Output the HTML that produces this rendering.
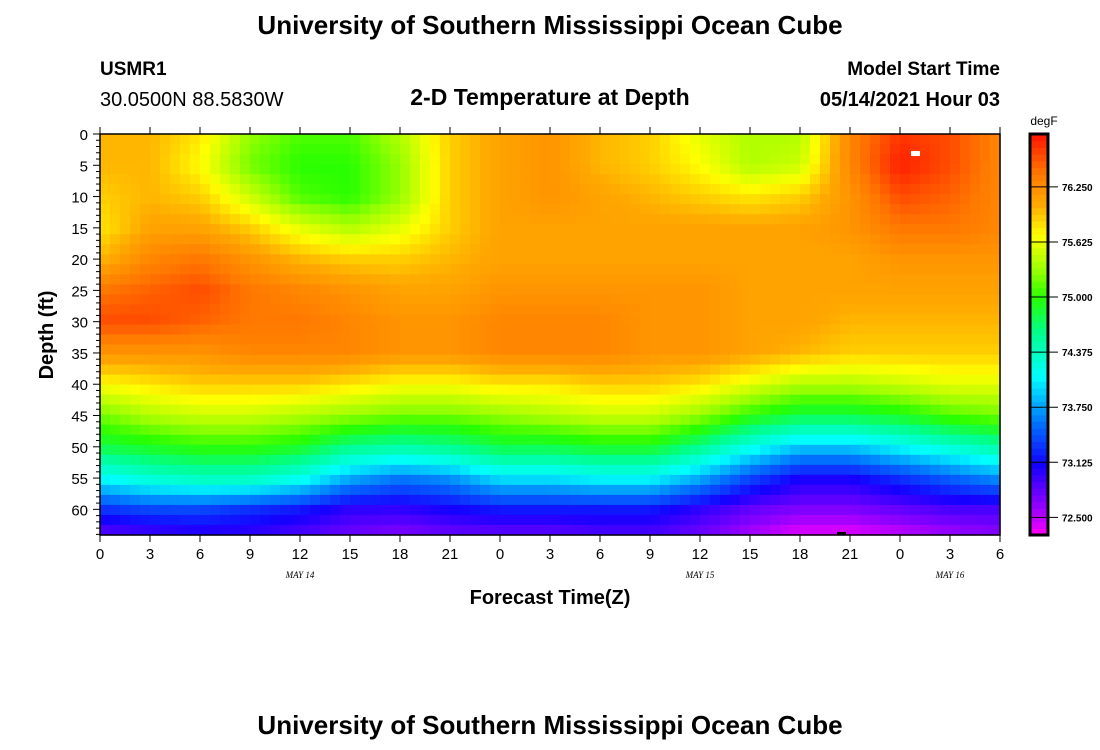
<!DOCTYPE html>
<html><head><meta charset="utf-8"><style>
body{margin:0;background:#fff;width:1100px;height:750px;overflow:hidden;font-family:"Liberation Sans",sans-serif}
svg{display:block}
</style></head><body>
<svg id="s" width="1100" height="750" xmlns="http://www.w3.org/2000/svg">
<text x="550" y="34" text-anchor="middle" font-size="26" font-weight="bold">University of Southern Mississippi Ocean Cube</text>
<text x="100" y="75" font-size="19" font-weight="bold">USMR1</text>
<text x="100" y="106" font-size="20">30.0500N  88.5830W</text>
<text x="550" y="105" text-anchor="middle" font-size="23" font-weight="bold">2-D Temperature at Depth</text>
<text x="1000" y="75" text-anchor="end" font-size="19" font-weight="bold">Model Start Time</text>
<text x="1000" y="106" text-anchor="end" font-size="20" font-weight="bold">05/14/2021 Hour 03</text>
<g id="heat"></g>
<g id="axes"></g>
<text transform="translate(53,335) rotate(-90)" text-anchor="middle" font-size="20" font-weight="bold">Depth (ft)</text>
<text x="550" y="604" text-anchor="middle" font-size="20" font-weight="bold">Forecast Time(Z)</text>
<text x="550" y="734" text-anchor="middle" font-size="26" font-weight="bold">University of Southern Mississippi Ocean Cube</text>
<g id="cbar"></g>
<text x="1044" y="125" text-anchor="middle" font-size="12">degF</text>
</svg>
<script>
const hours=[0,3,6,9,12,15,18,21,24,27,30,33,36,39,42,45,48,51,54];
const depths=[0,5,10,15,20,25,30,35,40,45,50,55,60,65];
const tempRows=[
[76.0,76.0,75.8,75.3,75.1,75.1,75.4,75.9,76.1,76.2,76.0,75.9,75.6,75.4,75.4,76.3,76.7,76.6,76.3],
[76.0,76.0,75.7,75.2,75.0,75.0,75.3,75.9,76.1,76.2,76.0,75.9,75.7,75.4,75.5,76.3,76.8,76.6,76.3],
[75.9,76.0,75.9,75.5,75.1,75.0,75.3,75.9,76.1,76.2,76.1,76.0,75.9,75.8,75.9,76.2,76.6,76.5,76.3],
[75.8,76.1,76.1,75.9,75.6,75.4,75.6,75.9,76.1,76.1,76.1,76.1,76.1,76.1,76.1,76.2,76.4,76.4,76.3],
[76.0,76.3,76.4,76.2,76.0,75.9,75.9,76.0,76.1,76.1,76.1,76.1,76.1,76.1,76.1,76.1,76.2,76.2,76.2],
[76.4,76.5,76.6,76.4,76.3,76.2,76.1,76.1,76.2,76.2,76.2,76.2,76.2,76.1,76.1,76.1,76.1,76.1,76.1],
[76.6,76.6,76.5,76.4,76.4,76.3,76.2,76.2,76.3,76.3,76.3,76.2,76.2,76.1,76.1,76.0,76.0,76.0,76.0],
[76.2,76.2,76.2,76.3,76.3,76.3,76.2,76.2,76.3,76.3,76.3,76.2,76.2,76.1,76.0,75.9,75.9,75.9,75.9],
[75.7,75.8,75.9,75.9,75.9,75.8,75.7,75.7,75.8,75.8,75.9,75.9,75.8,75.6,75.4,75.4,75.5,75.6,75.6],
[75.2,75.4,75.5,75.5,75.4,75.3,75.2,75.2,75.3,75.4,75.5,75.5,75.3,75.0,74.8,74.8,74.9,75.1,75.2],
[74.8,74.9,75.0,75.0,74.9,74.6,74.5,74.6,74.8,74.8,74.9,74.9,74.6,74.2,73.9,73.9,74.1,74.3,74.5],
[74.1,74.3,74.4,74.4,74.2,73.8,73.6,73.7,74.0,74.0,74.1,74.1,73.8,73.4,73.1,73.1,73.3,73.5,73.7],
[73.3,73.4,73.4,73.3,73.2,73.0,73.0,73.1,73.2,73.2,73.2,73.2,73.0,72.8,72.7,72.7,72.8,72.9,72.9],
[72.7,72.8,72.9,72.9,72.8,72.7,72.6,72.7,72.7,72.7,72.8,72.8,72.7,72.5,72.3,72.3,72.4,72.5,72.6]];
const xTickLabels=["0","3","6","9","12","15","18","21","0","3","6","9","12","15","18","21","0","3","6"];
const yTickLabels=["0","5","10","15","20","25","30","35","40","45","50","55","60"];
const dateLabels=["MAY 14","MAY 15","MAY 16"];
const dateHours=[12,36,51];
const cbTicks=[72.5,73.125,73.75,74.375,75.0,75.625,76.25];

const X0=100,X1=1000,Y0=134,Y1=535,HMAX=54,DMAX=64.1,TMIN=72.3,TMAX=76.85;
const xs=h=>X0+(h/HMAX)*(X1-X0);
const ys=d=>Y0+(d/DMAX)*(Y1-Y0);
const cs=t=>Y1-(t-TMIN)/(TMAX-TMIN)*(Y1-Y0);
const stops=[[72.3,[255,0,255]],[72.65,[140,0,255]],[73.1,[20,0,255]],[73.6,[0,120,255]],[74.1,[0,255,255]],[74.6,[0,255,140]],[75.0,[40,255,0]],[75.3,[150,255,0]],[75.7,[255,255,0]],[76.05,[255,170,0]],[76.4,[255,120,0]],[76.85,[255,20,0]]];
function color(t){
  if(t<=stops[0][0])return 'rgb('+stops[0][1]+')';
  for(let i=1;i<stops.length;i++){if(t<=stops[i][0]){const a=stops[i-1],b=stops[i],f=(t-a[0])/(b[0]-a[0]);
    return 'rgb('+a[1].map((v,k)=>Math.round(v+(b[1][k]-v)*f)).join(',')+')';}}
  return 'rgb('+stops[stops.length-1][1]+')';
}
function sample(h,d){
  let i=0;while(i<hours.length-2&&h>hours[i+1])i++;
  let j=0;while(j<depths.length-2&&d>depths[j+1])j++;
  const fx=Math.min(1,Math.max(0,(h-hours[i])/(hours[i+1]-hours[i])));
  const fy=Math.min(1,Math.max(0,(d-depths[j])/(depths[j+1]-depths[j])));
  const a=tempRows[j][i],b=tempRows[j][i+1],c=tempRows[j+1][i],e=tempRows[j+1][i+1];
  return a*(1-fx)*(1-fy)+b*fx*(1-fy)+c*(1-fx)*fy+e*fx*fy;
}
const NS='http://www.w3.org/2000/svg';
function mk(p,tag,at){const e=document.createElementNS(NS,tag);for(const k in at)e.setAttribute(k,at[k]);p.appendChild(e);return e;}
const heat=document.getElementById('heat');
const NX=90,NY=40;
for(let a=0;a<NX;a++)for(let b=0;b<NY;b++){
  const h0=a*HMAX/NX,h1=(a+1)*HMAX/NX,d0=b*DMAX/NY,d1=(b+1)*DMAX/NY;
  const r=mk(heat,'rect',{x:xs(h0),y:ys(d0),width:xs(h1)-xs(h0)+0.6,height:ys(d1)-ys(d0)+0.6,fill:color(sample((h0+h1)/2,(d0+d1)/2))});
  
  
}
mk(heat,'rect',{x:911,y:151,width:9,height:5,fill:'#fff'});
mk(heat,'rect',{x:837,y:532,width:9,height:3,fill:'#000'});
const ax=document.getElementById('axes');
mk(ax,'rect',{x:X0,y:Y0,width:X1-X0,height:Y1-Y0,fill:'none',stroke:'#000','stroke-width':1.5});
xTickLabels.forEach((l,i)=>{const x=xs(i*3);
  mk(ax,'line',{x1:x,x2:x,y1:Y0,y2:Y0-7,stroke:'#000'});
  mk(ax,'line',{x1:x,x2:x,y1:Y1,y2:Y1+7,stroke:'#000'});
  const t=mk(ax,'text',{x:x,y:Y1+24,'text-anchor':'middle','font-size':15});t.textContent=l;
  
  
});
dateLabels.forEach((l,i)=>{const t=mk(ax,'text',{x:xs(dateHours[i]),y:578,'text-anchor':'middle','font-size':9,'font-style':'italic','font-family':'Liberation Serif, serif'});t.textContent=l;
  
  
});
for(let d=0;d<=64;d++){const y=ys(d);mk(ax,'line',{x1:X0,x2:X0-(d%5==0?7:4),y1:y,y2:y,stroke:'#000'});}
yTickLabels.forEach((l,i)=>{const t=mk(ax,'text',{x:X0-12,y:ys(i*5)+6,'text-anchor':'end','font-size':15});t.textContent=l;
  
  
});
const cb=document.getElementById('cbar');
const NC=60;
for(let k=0;k<NC;k++){const t0=TMIN+(TMAX-TMIN)*k/NC,t1=TMIN+(TMAX-TMIN)*(k+1)/NC;
  const r=mk(cb,'rect',{x:1030,y:cs(t1),width:18,height:cs(t0)-cs(t1)+0.6,fill:color((t0+t1)/2)});
  
  
}
mk(cb,'rect',{x:1030,y:Y0,width:18,height:Y1-Y0,fill:'none',stroke:'#000','stroke-width':3});
cbTicks.forEach(v=>{const y=cs(v);mk(cb,'line',{x1:1030,x2:1058,y1:y,y2:y,stroke:'#000'});
  const t=mk(cb,'text',{x:1062,y:y+4,'font-size':10,'font-weight':'bold'});t.textContent=v.toFixed(3);
  
  
});
</script>
</body></html>
